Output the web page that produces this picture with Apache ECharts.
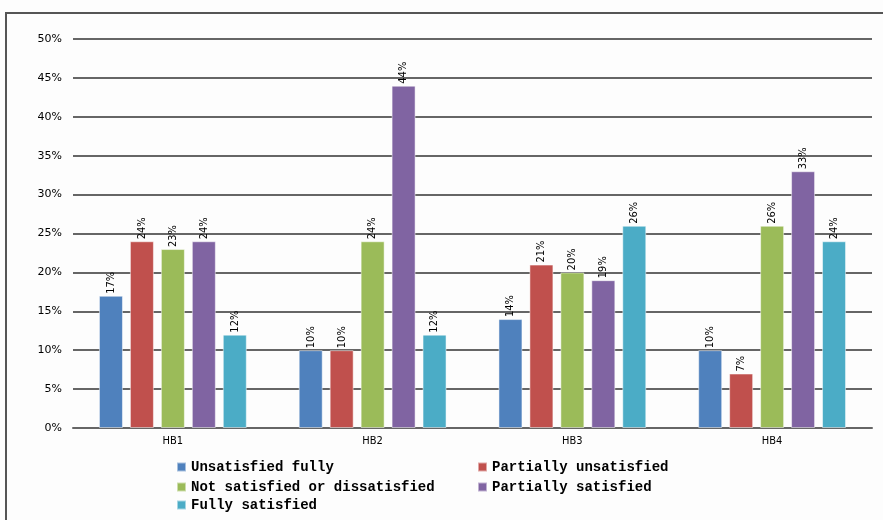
<!DOCTYPE html>
<html>
<head>
<meta charset="utf-8">
<script src="https://cdn.jsdelivr.net/npm/echarts@6/dist/echarts.min.js"></script>
<style>
  html, body { margin: 0; padding: 0; background: #fdfdfd; }
  #chart { width: 883px; height: 520px; }
</style>
</head>
<body>
<div id="chart"></div>
<script>
// Satisfaction survey results per HB group (percent of respondents)
const categories = ['HB1', 'HB2', 'HB3', 'HB4'];
const seriesNames = [
  'Unsatisfied fully',
  'Partially unsatisfied',
  'Not satisfied or dissatisfied',
  'Partially satisfied',
  'Fully satisfied'
];
const unsatisfiedFully = [17, 10, 14, 10];
const partiallyUnsatisfied = [24, 10, 21, 7];
const neitherSatisfied = [23, 24, 20, 26];
const partiallySatisfied = [24, 44, 19, 33];
const fullySatisfied = [12, 12, 26, 24];
const yTicks = { min: 0, max: 50, step: 5 };

const values = [unsatisfiedFully, partiallyUnsatisfied, neitherSatisfied, partiallySatisfied, fullySatisfied];
const colors = ['#4F81BD', '#C0504D', '#9BBB59', '#8064A2', '#4BACC6'];

// legend grid: two columns, three rows under the plot
const legendSlots = [
  { left: 176, top: 460 },
  { left: 477, top: 460 },
  { left: 176, top: 480 },
  { left: 477, top: 480 },
  { left: 176, top: 498 }
];

const chart = echarts.init(document.getElementById('chart'), null, { renderer: 'canvas' });

const legendText = {
  fontFamily: '"Liberation Mono", monospace',
  fontWeight: 'bold',
  fontSize: 14,
  color: '#000',
  lineHeight: 14
};

chart.setOption({
  backgroundColor: '#fdfdfd',
  animation: false,
  graphic: [{
    type: 'rect',
    shape: { x: 6, y: 13, width: 900, height: 540 },
    style: { fill: 'none', stroke: '#555', lineWidth: 2 },
    silent: true
  }],
  grid: { left: 73, right: 11, top: 39, bottom: 92 },
  legend: seriesNames.map((name, i) => ({
    left: legendSlots[i].left,
    top: legendSlots[i].top,
    padding: 0,
    icon: 'rect', itemWidth: 9, itemHeight: 9,
    data: [name],
    textStyle: legendText
  })),
  xAxis: {
    type: 'category',
    data: categories,
    axisLine: { lineStyle: { color: '#666', width: 2 } },
    axisTick: { show: false },
    axisLabel: {
      margin: 8,
      fontFamily: '"DejaVu Sans Condensed", sans-serif',
      fontSize: 11,
      color: '#000'
    }
  },
  yAxis: {
    type: 'value',
    min: yTicks.min, max: yTicks.max, interval: yTicks.step,
    axisLine: { show: false },
    axisTick: { show: false },
    splitLine: { lineStyle: { color: '#666', width: 2 } },
    axisLabel: {
      formatter: '{value}%',
      margin: 11,
      fontFamily: '"DejaVu Sans", sans-serif',
      fontSize: 11,
      color: '#000'
    }
  },
  series: seriesNames.map((name, i) => ({
    name,
    type: 'bar',
    data: values[i],
    barWidth: 24,
    barGap: '29%',
    itemStyle: { color: colors[i], borderColor: 'rgba(255,255,255,0.5)', borderWidth: 1 },
    label: {
      show: true,
      position: 'top',
      rotate: 90,
      align: 'left',
      verticalAlign: 'middle',
      distance: 2,
      formatter: '{c}%',
      fontFamily: '"DejaVu Sans Condensed", "Liberation Sans", sans-serif',
      fontSize: 11,
      color: '#000'
    }
  }))
});
</script>
</body>
</html>
